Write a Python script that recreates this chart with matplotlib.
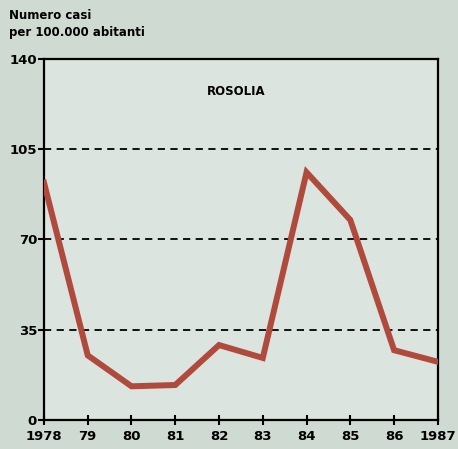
import matplotlib
matplotlib.use("Agg")
import matplotlib.pyplot as plt

years = [1978, 1979, 1980, 1981, 1982, 1983, 1984, 1985, 1986, 1987]
year_labels = ["1978", "79", "80", "81", "82", "83", "84", "85", "86", "1987"]
cases = [92, 25, 13, 13.5, 29, 24, 96, 77.5, 27, 22.5]
yticks = [0, 35, 70, 105, 140]

plt.rcParams['font.family'] = ['DejaVu Sans']
fig = plt.figure(figsize=(4.58, 4.49), dpi=100, facecolor='#cfdbd2')
ax = fig.add_axes([0.096, 0.065, 0.860, 0.804])
ax.set_facecolor('#dbe4de')

ax.plot(years, cases, color='#b04a3c', lw=4.3, solid_joinstyle='miter', zorder=3)

for v in yticks[1:-1]:
    ax.axhline(v, color='black', lw=1.3, ls=(0, (4, 3)), zorder=2)

ax.set_xlim(1978, 1987)
ax.set_ylim(0, 140)
ax.set_xticks(years)
ax.set_xticklabels(year_labels)
ax.set_yticks(yticks)
for s in ax.spines.values():
    s.set_linewidth(1.6)
    s.set_color('black')
ax.tick_params(axis='x', direction='inout', length=7, width=1.5, labelsize=9.5, pad=4)
ax.tick_params(axis='y', direction='out', length=4, width=1.5, labelsize=9.5, pad=1)
for lab in ax.get_xticklabels() + ax.get_yticklabels():
    lab.set_fontweight('bold')

ax.text(0.487, 0.91, "ROSOLIA", transform=ax.transAxes, ha='center', va='center',
        fontsize=8.5, fontweight='bold')
fig.text(0.02, 0.965, "Numero casi", ha='left', va='center', fontsize=8.5, fontweight='bold')
fig.text(0.02, 0.927, "per 100.000 abitanti", ha='left', va='center', fontsize=8.5, fontweight='bold')

fig.savefig("out.png", dpi=100, facecolor=fig.get_facecolor())
